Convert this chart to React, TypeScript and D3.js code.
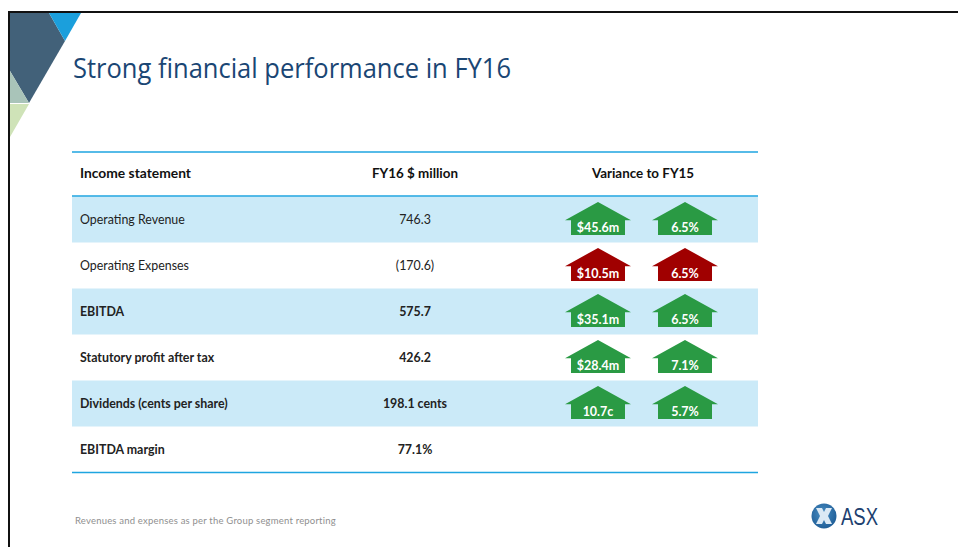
import React from "react";
import * as d3 from "d3";

const title = "Strong financial performance in FY16";
const headers = ["Income statement", "FY16 $ million", "Variance to FY15"];
const rowLabels = ["Operating Revenue", "Operating Expenses", "EBITDA", "Statutory profit after tax", "Dividends (cents per share)", "EBITDA margin"];
const rowValues = ["746.3", "(170.6)", "575.7", "426.2", "198.1 cents", "77.1%"];
const varAbs = ["$45.6m", "$10.5m", "$35.1m", "$28.4m", "10.7c", ""];
const varPct = ["6.5%", "6.5%", "6.5%", "7.1%", "5.7%", ""];
const adverse = [false, true, false, false, false, false];
const boldRows = [false, false, true, true, true, true];
const footnote = "Revenues and expenses as per the Group segment reporting";

const W = 958, H = 547;
const FONT = "Lato, Carlito, 'Open Sans', sans-serif";
const y = d3.scaleBand<number>().domain(d3.range(rowLabels.length)).range([196.5, 472.5]);

function Arrow({ cx, cy, label, red }: { cx: number; cy: number; label: string; red: boolean }) {
  const line = d3.line();
  const d = line([
    [cx, cy - 17.5], [cx + 33, cy + 0.7], [cx + 27, cy + 0.7], [cx + 27, cy + 15.5],
    [cx - 27, cy + 15.5], [cx - 27, cy + 0.7], [cx - 33, cy + 0.7],
  ] as [number, number][]) + "Z";
  return (
    <g>
      <path d={d} fill={red ? "#a00000" : "#2a9a44"} />
      <text x={cx} y={cy + 9} textAnchor="middle" dominantBaseline="middle" fontSize={12.5} fontWeight={700} fill="#fff">{label}</text>
    </g>
  );
}

export default function App() {
  return (
    <svg width={W} height={H} viewBox={`0 0 ${W} ${H}`} fontFamily={FONT}
      style={{ position: "absolute", left: 0, top: 0, background: "#fff" }}>
      <polygon points="10,13 49,13 65,41 29,103 10,71" fill="#426179" />
      <polygon points="49,13 81,13 65,41" fill="#1b9fdc" />
      <polygon points="10,71 29,103 10,103" fill="#a9c4b9" />
      <polygon points="10,104 29,104 10,137" fill="#cfe3b8" />
      <path d={`M9,${H} V12 H${W}`} fill="none" stroke="#111" strokeWidth={2} />
      <text x={73} y={77.5} fontSize={27} fontFamily="'Open Sans', sans-serif" fill="#1a4674" textLength={438} lengthAdjust="spacingAndGlyphs">{title}</text>

      {rowLabels.map((_, i) => i % 2 === 0 && (
        <rect key={i} x={72} y={y(i)!} width={686} height={y.bandwidth()} fill="#cbeaf8" />
      ))}
      {[152, 196, 472.5].map((ly) => (
        <line key={ly} x1={72} x2={758} y1={ly} y2={ly} stroke="#1ea5e0" strokeWidth={1.3} />
      ))}

      <g fontSize={13.4} fontWeight={700} fill="#111">
        <text x={80} y={178} textLength={111} lengthAdjust="spacingAndGlyphs">{headers[0]}</text>
        <text x={415} y={178} textAnchor="middle">{headers[1]}</text>
        <text x={643} y={178} textAnchor="middle">{headers[2]}</text>
      </g>

      {rowLabels.map((label, i) => {
        const cy = y(i)! + y.bandwidth() / 2;
        const w = boldRows[i] ? 700 : 400;
        return (
          <g key={label}>
            <text x={80} y={cy + 4} fontSize={12.4} fontWeight={w} fill="#222">{label}</text>
            <text x={415} y={cy + 4} fontSize={12.4} fontWeight={w} fill="#222" textAnchor="middle">{rowValues[i]}</text>
            {varAbs[i] && <Arrow cx={598} cy={cy} label={varAbs[i]} red={adverse[i]} />}
            {varPct[i] && <Arrow cx={685} cy={cy} label={varPct[i]} red={adverse[i]} />}
          </g>
        );
      })}

      <text x={75} y={524} fontSize={9.5} fill="#8f8f8f" letterSpacing={0.2}>{footnote}</text>

      <defs>
        <radialGradient id="asxBall" cx="45%" cy="40%" r="65%">
          <stop offset="0%" stopColor="#4a8fc4" />
          <stop offset="100%" stopColor="#1c5a94" />
        </radialGradient>
      </defs>
      <circle cx={824} cy={516} r={12.5} fill="url(#asxBall)" />
      <path d="M816,508 L822,508 L824,512 L826,508 L832,508 L828,516 L832,524 L826,524 L824,520 L822,524 L816,524 L820,516 Z" fill="#dbe9f5" />
      <text x={841} y={525} fontSize={23.5} fill="#20406f" fontFamily="'Liberation Sans', sans-serif" textLength={37} lengthAdjust="spacingAndGlyphs">ASX</text>
    </svg>
  );
}
